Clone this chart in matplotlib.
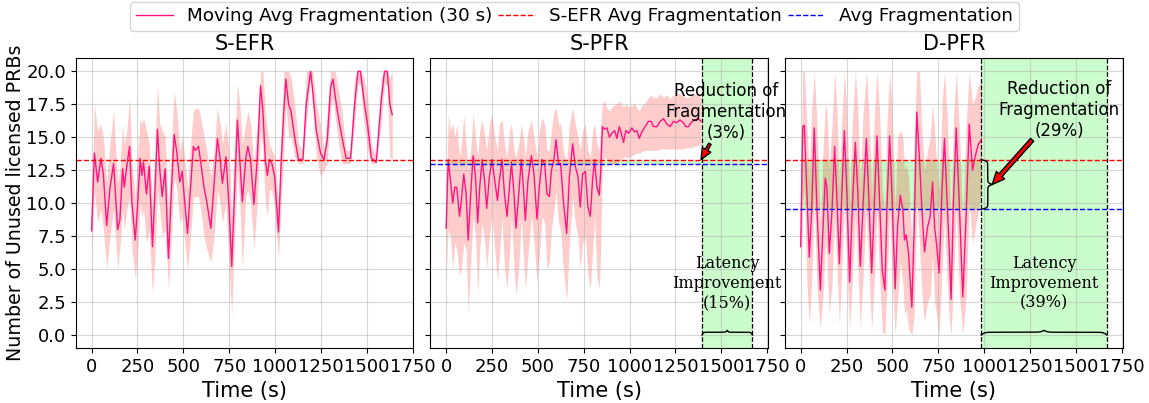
import matplotlib.pyplot as plt
import numpy as np

# ---- S-EFR (30 s moving average, band = min/max in window) ----
sefr_t = [0, 15, 33, 51, 64, 82, 100, 120, 142, 154,
          169, 178, 192, 207, 220, 238, 250, 265, 274, 283,
          299, 314, 332, 345, 359, 372, 385, 401, 419, 432,
          450, 465, 481, 494, 508, 523, 537, 555, 566, 583,
          595, 613, 628, 650, 668, 686, 701, 713, 733, 750,
          764, 777, 795, 808, 822, 840, 852, 867, 885, 903,
          921, 934, 947, 958, 970, 983, 998, 1019, 1034, 1048,
          1059, 1074, 1088, 1107, 1128, 1152, 1170, 1194, 1207, 1225,
          1248, 1267, 1285, 1303, 1316, 1328, 1347, 1365, 1388, 1412,
          1434, 1452, 1466, 1485, 1506, 1525, 1552, 1579, 1597, 1612,
          1626, 1639]
sefr_avg = [7.9, 13.8, 11.6, 13.4, 12.2, 8.3, 11.1, 13.0, 8.0, 8.7,
            12.6, 11.2, 12.8, 14.3, 10.0, 7.2, 9.7, 13.4, 12.1, 13.1,
            10.7, 12.8, 6.7, 10.7, 15.6, 12.5, 10.5, 12.6, 5.8, 10.0,
            15.2, 13.8, 11.6, 12.4, 10.0, 7.7, 10.7, 14.3, 14.0, 14.3,
            13.1, 11.2, 10.1, 8.1, 11.5, 14.9, 13.3, 11.5, 13.5, 9.5,
            5.2, 10.0, 16.3, 13.3, 10.1, 13.3, 14.3, 13.3, 9.9, 13.3,
            18.9, 17.0, 13.3, 12.1, 13.3, 13.0, 12.0, 7.8, 13.3, 17.0,
            19.4, 17.5, 16.9, 15.0, 13.3, 13.3, 17.5, 20.0, 18.3, 15.5,
            13.8, 13.3, 14.8, 18.8, 19.4, 18.1, 16.4, 15.0, 13.4, 13.4,
            17.5, 20.0, 20.0, 17.8, 15.8, 13.4, 13.1, 17.8, 20.0, 20.0,
            17.5, 16.7]
sefr_lo = [5.5, 11.0, 8.5, 9.5, 8.0, 5.0, 7.5, 9.5, 5.0, 6.5,
           9.5, 8.0, 9.5, 10.5, 6.5, 4.3, 6.0, 10.0, 9.0, 9.5,
           7.0, 8.0, 3.0, 6.0, 11.0, 9.5, 7.5, 8.0, 3.5, 6.5,
           12.0, 11.0, 8.5, 9.0, 7.0, 5.0, 7.0, 10.5, 10.5, 10.5,
           9.5, 7.5, 6.5, 5.5, 7.5, 11.0, 10.0, 8.5, 10.0, 5.0,
           1.5, 6.5, 12.5, 10.0, 5.0, 10.5, 11.0, 10.0, 6.5, 10.0,
           15.5, 14.0, 10.0, 9.0, 11.0, 11.0, 9.5, 5.8, 10.0, 14.0,
           17.5, 15.0, 15.0, 13.5, 13.0, 13.0, 16.0, 19.5, 17.0, 13.5,
           12.0, 12.5, 13.0, 17.0, 18.0, 16.5, 14.5, 13.0, 13.0, 13.0,
           16.0, 19.0, 19.0, 16.0, 14.0, 13.0, 13.0, 16.0, 19.0, 19.0,
           13.5, 13.3]
sefr_hi = [9.0, 17.5, 15.5, 16.0, 15.0, 11.5, 14.5, 17.0, 11.5, 12.5,
           16.0, 14.5, 15.5, 18.0, 13.0, 10.5, 13.5, 16.5, 16.0, 16.5,
           15.5, 14.5, 10.0, 14.0, 19.0, 16.0, 15.5, 15.0, 9.5, 13.5,
           18.5, 17.0, 14.0, 15.0, 13.5, 11.0, 14.0, 17.0, 17.2, 17.2,
           16.5, 15.0, 14.0, 12.0, 14.0, 17.3, 16.0, 14.5, 16.0, 14.0,
           9.0, 14.0, 19.0, 17.5, 14.5, 16.0, 17.0, 16.0, 13.0, 16.0,
           20.0, 20.0, 17.0, 15.5, 14.5, 14.0, 13.5, 10.0, 15.5, 20.0,
           20.0, 20.0, 19.5, 17.5, 14.5, 14.0, 20.0, 20.0, 20.0, 17.5,
           16.0, 14.0, 17.0, 20.0, 20.0, 20.0, 18.5, 17.0, 14.0, 14.0,
           19.5, 20.0, 20.0, 19.5, 18.0, 14.5, 13.5, 19.5, 20.0, 20.0,
           19.5, 20.0]

# ---- S-PFR ----
spfr_t = [0, 11, 22, 36, 47, 58, 73, 83, 96, 109,
          120, 134, 147, 160, 172, 183, 196, 211, 221, 236,
          250, 265, 280, 290, 305, 318, 332, 345, 356, 370,
          381, 396, 410, 421, 432, 446, 465, 479, 495, 508,
          523, 537, 550, 563, 574, 588, 599, 613, 624, 639,
          657, 672, 690, 704, 719, 731, 744, 759, 773, 786,
          799, 809, 822, 835, 843, 852,
          862, 877, 890, 904, 919, 931, 944, 955, 967, 980,
          995, 1013, 1027, 1040, 1053, 1067, 1085, 1103, 1118, 1130,
          1149, 1167, 1185, 1203, 1221, 1239, 1257, 1275, 1294, 1306,
          1321, 1335, 1353, 1375, 1390]
spfr_avg = [8.1, 13.3, 11.9, 10.0, 11.2, 11.2, 9.0, 10.2, 12.2, 10.7,
            7.2, 10.7, 13.6, 12.0, 8.5, 11.2, 13.3, 11.5, 9.6, 12.0,
            13.3, 11.7, 10.2, 11.7, 13.3, 10.7, 9.0, 11.2, 13.1, 10.7,
            8.1, 10.7, 13.3, 11.2, 8.7, 11.7, 13.6, 12.2, 8.8, 11.2,
            13.3, 13.0, 10.7, 10.5, 12.5, 13.3, 14.8, 13.0, 13.0, 10.2,
            7.7, 12.0, 14.5, 12.8, 12.0, 9.7, 12.2, 12.4, 9.7, 9.0,
            11.9, 13.3, 11.2, 10.6, 12.5, 15.8,
            15.6, 15.7, 15.0, 15.3, 15.5, 14.9, 15.8, 15.3, 14.6, 15.5,
            15.3, 15.7, 15.4, 15.5, 14.9, 15.4, 15.8, 16.2, 16.2, 15.8,
            15.8, 16.2, 16.4, 16.0, 15.8, 16.2, 16.1, 16.3, 16.1, 15.8,
            15.8, 16.1, 16.3, 16.4, 16.2]
spfr_lo = [4.3, 8.0, 7.5, 5.0, 7.0, 6.5, 4.5, 5.0, 7.0, 6.5,
           1.6, 5.5, 9.0, 7.5, 3.0, 6.5, 8.5, 7.0, 5.0, 7.5,
           9.0, 6.5, 4.0, 6.0, 9.0, 5.0, 3.5, 6.0, 9.0, 5.0,
           3.0, 5.0, 9.0, 6.0, 3.5, 6.0, 9.0, 7.0, 4.0, 6.0,
           9.0, 8.5, 5.0, 5.5, 8.0, 9.5, 11.0, 8.5, 8.0, 5.0,
           2.5, 7.0, 10.5, 8.5, 7.5, 5.0, 7.0, 7.5, 4.5, 3.5,
           6.5, 9.0, 4.5, 3.5, 6.5, 13.0,
           13.5, 13.3, 13.0, 13.0, 13.0, 13.0, 13.2, 13.3, 13.5, 13.5,
           13.4, 13.6, 13.7, 13.8, 13.8, 13.9, 14.0, 14.0, 14.0, 14.0,
           14.0, 14.1, 14.1, 14.1, 14.1, 14.1, 14.1, 14.1, 14.1, 14.2,
           14.2, 14.2, 14.3, 14.4, 14.4]
spfr_hi = [9.0, 16.8, 15.5, 16.0, 15.0, 16.0, 13.5, 14.5, 16.7, 14.5,
           12.5, 14.0, 16.8, 15.0, 13.5, 15.5, 16.3, 15.0, 14.0, 16.0,
           16.8, 15.0, 14.0, 16.0, 16.3, 14.5, 13.5, 15.5, 16.0, 14.0,
           13.5, 14.5, 16.0, 15.0, 13.5, 15.5, 16.3, 15.0, 13.5, 15.5,
           16.5, 16.0, 14.0, 14.0, 15.5, 17.0, 17.2, 16.0, 16.0, 14.0,
           13.0, 16.0, 17.2, 16.0, 15.0, 14.0, 15.5, 16.0, 14.0, 13.5,
           15.5, 16.0, 14.5, 14.0, 16.0, 17.5,
           17.8, 17.2, 17.0, 17.3, 17.5, 17.5, 17.8, 17.5, 17.3, 17.5,
           17.3, 17.4, 17.6, 17.2, 17.0, 17.4, 17.6, 18.0, 18.2, 18.0,
           18.0, 18.3, 18.0, 18.2, 17.9, 18.2, 18.3, 18.3, 18.2, 18.0,
           18.0, 18.2, 18.3, 18.2, 18.0]

# ---- D-PFR ----
dpfr_t = [0, 11, 20, 34, 47, 60, 74, 89, 107, 122,
          134, 143, 156, 171, 185, 198, 211, 223, 238, 252,
          267, 281, 298, 312, 325, 339, 358, 372, 387, 401,
          416, 430, 445, 459, 470, 485, 499, 515, 528, 543,
          557, 566, 575, 588, 606, 619, 633, 648, 661, 675,
          692, 706, 719, 730, 742, 755, 771, 784, 797, 809,
          820, 833, 848, 866, 884, 902, 919, 937, 951, 969,
          976, 984]
dpfr_avg = [6.7, 15.8, 15.9, 10.7, 5.9, 9.5, 15.7, 9.5, 3.4, 8.2,
            11.9, 11.2, 6.2, 9.5, 14.3, 10.2, 5.4, 10.2, 15.5, 10.7,
            4.0, 9.5, 14.6, 10.7, 5.2, 9.5, 14.9, 10.2, 4.7, 9.7,
            15.1, 10.2, 4.9, 3.4, 9.5, 15.1, 10.2, 3.5, 8.2, 10.6,
            9.5, 7.2, 7.6, 6.2, 2.1, 8.2, 16.9, 13.3, 9.5, 6.3,
            8.2, 9.0, 11.6, 8.2, 6.7, 4.7, 11.2, 14.9, 10.5, 6.9,
            2.7, 10.2, 15.7, 9.5, 2.9, 9.0, 16.0, 12.5, 13.5, 14.5,
            14.6, 14.8]
dpfr_lo = [3.0, 10.0, 11.0, 4.0, 0.8, 4.0, 10.5, 3.5, 0.5, 3.0,
           7.0, 6.0, 1.5, 4.0, 9.0, 5.0, 0.8, 4.5, 10.0, 5.0,
           0.5, 4.0, 9.0, 5.0, 0.5, 4.0, 9.5, 5.0, 0.3, 4.0,
           9.5, 4.5, 0.3, 0.0, 3.5, 9.5, 4.0, 0.0, 2.5, 5.5,
           4.0, 1.5, 2.0, 0.5, 0.0, 1.5, 10.0, 7.0, 3.0, 1.0,
           2.5, 3.0, 6.0, 2.5, 1.5, 0.0, 5.0, 9.0, 4.5, 1.5,
           0.0, 4.0, 9.5, 3.0, 0.0, 3.0, 10.0, 7.0, 8.0, 9.5,
           10.0, 10.5]
dpfr_hi = [10.0, 20.0, 20.0, 16.0, 12.0, 17.0, 20.0, 16.0, 8.5, 14.0,
           17.5, 17.0, 12.5, 16.0, 20.0, 17.0, 11.0, 16.0, 20.0, 17.0,
           10.0, 16.0, 20.0, 17.0, 11.0, 16.5, 20.0, 17.0, 10.5, 16.5,
           20.0, 17.0, 11.0, 9.5, 16.0, 20.0, 17.0, 9.5, 15.0, 15.5,
           15.0, 12.5, 13.0, 12.0, 7.0, 15.0, 20.0, 20.0, 15.5, 12.5,
           14.0, 15.0, 17.5, 15.5, 13.0, 11.0, 17.5, 20.0, 17.0, 13.0,
           8.0, 16.5, 20.0, 15.5, 8.5, 16.0, 20.0, 17.5, 18.0, 19.0,
           19.0, 19.5]

# averages and improvement windows
sefr_mean = 13.3
spfr_mean = 12.93
dpfr_mean = 9.52
spfr_start = 1395
dpfr_start = 984
run_end = 1670
frag_red = {"S-PFR": "3%", "D-PFR": "29%"}
lat_imp = {"S-PFR": "15%", "D-PFR": "39%"}


def brace(ax, start, end, base, height, vertical=False, beta=70, p=0.6):
    # curly brace, tip in the middle
    u = np.linspace(0, 0.5, 200)
    edge = 2 * (1 / (1 + np.exp(-beta * u)) - 0.5)
    tip = 1 / (1 + np.exp(-beta * (u - 0.5)))
    half = p * edge + 2 * (1 - p) * tip
    shape = np.concatenate([half, half[-2::-1]])
    pos = np.linspace(start, end, shape.size)
    off = base + height * shape
    if vertical:
        ax.plot(off, pos, color="black", lw=1)
    else:
        ax.plot(pos, off, color="black", lw=1)


fig, axes = plt.subplots(1, 3, figsize=(11.49, 4.03), dpi=100, sharey=True)
fig.subplots_adjust(left=0.066, right=0.977, bottom=0.136, top=0.856, wspace=0.05)

panels = [("S-EFR", sefr_t, sefr_avg, sefr_lo, sefr_hi, None, None),
          ("S-PFR", spfr_t, spfr_avg, spfr_lo, spfr_hi, spfr_mean, spfr_start),
          ("D-PFR", dpfr_t, dpfr_avg, dpfr_lo, dpfr_hi, dpfr_mean, dpfr_start)]

for ax, (name, t, avg, lo, hi, mean, start) in zip(axes, panels):
    if start is not None:
        # area between S-EFR avg and own avg, then improvement window
        ax.fill_between([0, start], mean, sefr_mean, color="palegreen", alpha=0.5, lw=0)
        ax.axvspan(start, run_end, color="palegreen", alpha=0.5, lw=0)
        ax.axvline(start, color="black", ls="--", lw=0.9)
        ax.axvline(run_end, color="black", ls="--", lw=0.9)
    ax.fill_between(t, lo, hi, color="red", alpha=0.2, lw=0)
    l_avg, = ax.plot(t, avg, color="#ff1480", lw=1,
                     label="Moving Avg Fragmentation (30 s)")
    l_sefr = ax.axhline(sefr_mean, color="red", ls="--", lw=1,
                        label="S-EFR Avg Fragmentation")
    if mean is not None:
        l_mean = ax.axhline(mean, color="blue", ls="--", lw=1, label="Avg Fragmentation")
    ax.set_title(name, fontsize=15)
    ax.set_xlabel("Time (s)", fontsize=15)
    ax.tick_params(labelsize=13)
    ax.grid(True, alpha=0.5)
    ax.set_xlim(-86, 1755)
    ax.set_ylim(-1, 21)
    ax.set_xticks(np.arange(0, 1751, 250))
    ax.set_yticks(np.arange(0, 20.1, 2.5))

axes[0].set_ylabel("Number of Unused licensed PRBs", fontsize=13.7, labelpad=1)

# S-PFR annotations
ax = axes[1]
ax.text(1525, 16.9, "Reduction of\nFragmentation\n(%s)" % frag_red["S-PFR"],
        ha="center", va="center", fontsize=12)
ax.annotate("", xy=(spfr_start - 5, sefr_mean), xytext=(1438, 14.5),
            arrowprops=dict(facecolor="red", edgecolor="black", width=2,
                            headwidth=7, headlength=8, shrink=0))
ax.text((spfr_start + run_end) / 2, 3.9, "Latency\nImprovement\n(%s)" % lat_imp["S-PFR"],
        ha="center", va="center", fontsize=11.5, family="DejaVu Serif")
brace(ax, spfr_start, run_end, 0, 0.35)

# D-PFR annotations
ax = axes[2]
brace(ax, dpfr_mean, sefr_mean, dpfr_start, 60, vertical=True, beta=60)
ax.text(1410, 17.05, "Reduction of\nFragmentation\n(%s)" % frag_red["D-PFR"],
        ha="center", va="center", fontsize=12)
ax.annotate("", xy=(dpfr_start + 60, (sefr_mean + dpfr_mean) / 2), xytext=(1262, 14.8),
            arrowprops=dict(facecolor="red", edgecolor="black", width=3,
                            headwidth=8, headlength=9, shrink=0))
ax.text((dpfr_start + run_end) / 2, 3.9, "Latency\nImprovement\n(%s)" % lat_imp["D-PFR"],
        ha="center", va="center", fontsize=11.5, family="DejaVu Serif")
brace(ax, dpfr_start, run_end, 0, 0.35)

fig.legend(handles=[l_avg, l_sefr, l_mean], loc="upper center", bbox_to_anchor=(0.5, 1.0),
           ncol=3, fontsize=13.2, columnspacing=0.3, borderaxespad=0.1, borderpad=0.3)

fig.savefig("out.png", dpi=100)
